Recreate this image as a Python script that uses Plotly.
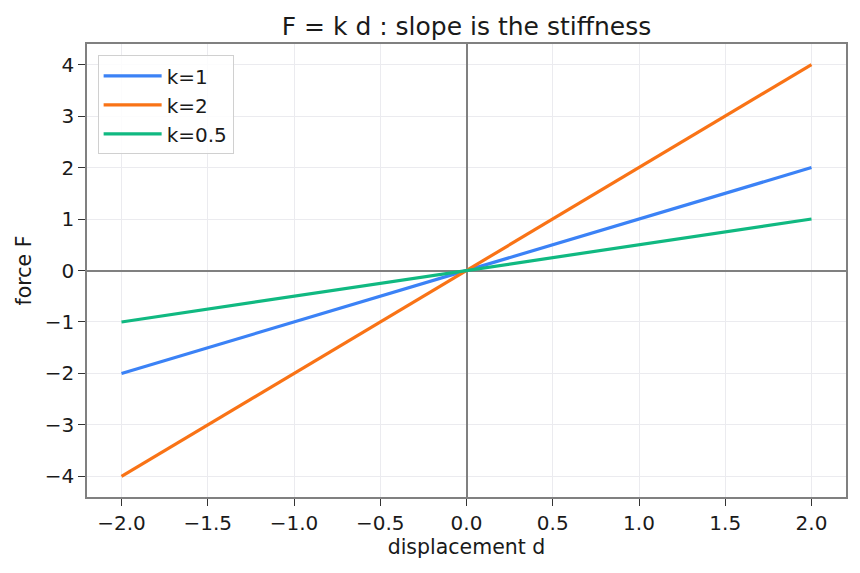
import numpy as np
import plotly.graph_objects as go

d = [-2.0, 2.0]
ks = [1, 2, 0.5]
names = ["k=1", "k=2", "k=0.5"]
colors = ["#3b82f6", "#f97316", "#10b981"]

fig = go.Figure()
for k, n, c in zip(ks, names, colors):
    fig.add_trace(go.Scatter(x=d, y=[k * v for v in d], mode="lines", name=n,
                             line=dict(color=c, width=3.2)))

font = "DejaVu Sans"
axis_common = dict(
    showline=True, mirror=True, linecolor="#808080", linewidth=1.5,
    ticks="outside", ticklen=7, tickwidth=1.3, tickcolor="#333333",
    showgrid=True, gridcolor="#ebebef", gridwidth=0.8,
    zeroline=True, zerolinecolor="#808080", zerolinewidth=1.5,
    tickfont=dict(family=font, size=20, color="#1a1a1a"),
)
fig.update_xaxes(range=[-2.2, 2.2], dtick=0.5, tick0=0, tickformat=".1f",
                 title=dict(text="displacement d", font=dict(family=font, size=20.5, color="#1a1a1a"), standoff=6),
                 **axis_common)
fig.update_yaxes(range=[-4.4, 4.4], dtick=1, tick0=0,
                 title=dict(text="force F", font=dict(family=font, size=20.5, color="#1a1a1a"), standoff=8),
                 **axis_common)

fig.update_layout(
    width=860, height=573,
    margin=dict(l=87, r=14, t=44, b=76),
    paper_bgcolor="white", plot_bgcolor="white",
    title=dict(text="F = k d : slope is the stiffness", x=0.5, xref="paper", y=0.955, yanchor="middle",
               font=dict(family=font, size=25, color="#1a1a1a")),
    legend=dict(x=0.014, y=0.975, xanchor="left", yanchor="top", itemwidth=58,
                bgcolor="rgba(255,255,255,0.85)", bordercolor="#d0d0d0", borderwidth=1,
                font=dict(family=font, size=20, color="#1a1a1a")),
    font=dict(family=font),
)

fig.write_html("out.html")
